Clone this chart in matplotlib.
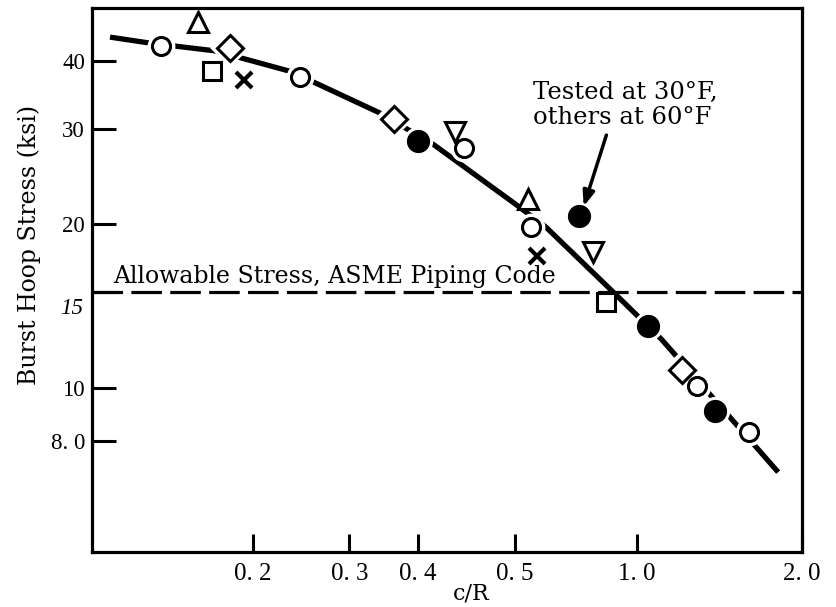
import matplotlib
matplotlib.use("Agg")
import matplotlib.pyplot as plt

plt.rcParams['lines.scale_dashes'] = False

# ---------------- data ----------------
open_circle_x = [0.136, 0.244, 0.485, 0.641, 1.29, 1.60]
open_circle_y = [42.6, 37.4, 27.6, 19.8, 10.1, 8.30]

filled_circle_x = [0.40, 0.784, 1.047, 1.39]
filled_circle_y = [28.5, 20.7, 13.0, 9.07]

tri_up_x = [0.159, 0.634]
tri_up_y = [47.1, 22.3]

tri_down_x = [0.467, 0.832]
tri_down_y = [29.6, 17.8]

diamond_x = [0.182, 0.362, 1.21]
diamond_y = [42.2, 31.2, 10.8]

square_x = [0.169, 0.878]
square_y = [38.3, 14.4]

cross_x = [0.193, 0.658]
cross_y = [36.9, 17.5]

curve_x = [0.110, 0.130, 0.171, 0.235, 0.340, 0.428, 0.598, 0.683, 0.908, 1.11, 1.81]
curve_y = [44.2, 43.1, 41.7, 38.2, 32.1, 28.0, 21.9, 19.8, 15.0, 12.3, 7.01]

allowable_stress = 15.0

x_ticks = [0.2, 0.3, 0.4, 0.6, 1.0, 2.0]
x_ticklabels = ["0. 2", "0. 3", "0. 4", "0. 5", "1. 0", "2. 0"]
y_ticks = [8.0, 10, 15, 20, 30, 40]
y_ticklabels = ["8. 0", "10", "", "20", "30", "40"]

arrow_tip = (0.801, 21.6)
arrow_tail = (0.881, 29.2)

# ---------------- figure ----------------
W, H = 837, 607
fig = plt.figure(figsize=(W / 100, H / 100), dpi=100)
L, R, T, B = 92, 802, 8, 552
ax = fig.add_axes([L / W, 1 - B / H, (R - L) / W, (B - T) / H])
ax.set_xscale('log')
ax.set_yscale('log')
ax.set_xlim(0.102, 2.0)
ax.set_ylim(5.0, 50.0)

serif = 'DejaVu Serif'
tickfont = 'Liberation Serif'

# allowable stress dashed line
ax.axhline(allowable_stress, color='black', lw=2.3, dashes=(22, 6), zorder=1)

# fitted curve
ax.plot(curve_x, curve_y, color='black', lw=3.8, solid_capstyle='butt', zorder=2)

mew = 2.2
# white masks to break the curve around markers
for xs, ys, m, ms in [(open_circle_x, open_circle_y, 'o', 13),
                      (filled_circle_x, filled_circle_y, 'o', 14),
                      (diamond_x, diamond_y, 'D', 13)]:
    ax.plot(xs, ys, ls='none', marker=m, ms=ms, mfc='white', mec='white', mew=7, zorder=3)

ax.plot(open_circle_x, open_circle_y, ls='none', marker='o', ms=13, mfc='white', mec='black', mew=mew, zorder=4)
ax.plot(filled_circle_x, filled_circle_y, ls='none', marker='o', ms=14.5, mfc='black', mec='black', mew=mew, zorder=4)
ax.plot(tri_up_x, tri_up_y, ls='none', marker='^', ms=14, mfc='white', mec='black', mew=mew, zorder=4)
ax.plot(tri_down_x, tri_down_y, ls='none', marker='v', ms=14, mfc='white', mec='black', mew=mew, zorder=4)
ax.plot(diamond_x, diamond_y, ls='none', marker='D', ms=13, mfc='white', mec='black', mew=mew, zorder=4)
ax.plot(square_x, square_y, ls='none', marker='s', ms=13, mfc='white', mec='black', mew=mew, zorder=4)
ax.plot(cross_x, cross_y, ls='none', marker='x', ms=11, mec='black', mew=3, zorder=4)

# annotations
ax.text(0.0296, 0.507, "Allowable Stress, ASME Piping Code", transform=ax.transAxes,
        ha='left', va='center', fontsize=17, family=serif)
ax.text(0.621, 0.844, "Tested at 30°F,", transform=ax.transAxes,
        ha='left', va='center', fontsize=17.5, family=serif)
ax.text(0.621, 0.799, "others at 60°F", transform=ax.transAxes,
        ha='left', va='center', fontsize=17.5, family=serif)
ax.annotate("", xy=arrow_tip, xytext=arrow_tail,
            arrowprops=dict(arrowstyle='-|>,head_length=0.9,head_width=0.35', color='black', lw=2.5,
                            shrinkA=0, shrinkB=0))

# axes styling
for s in ax.spines.values():
    s.set_linewidth(2.3)
ax.set_xticks(x_ticks)
ax.set_xticklabels(x_ticklabels, family=tickfont, fontsize=18)
ax.set_yticks(y_ticks)
ax.set_yticklabels(y_ticklabels, family=tickfont, fontsize=16.5)
ax.minorticks_off()
ax.tick_params(axis='x', direction='in', length=13, width=2.2, pad=8)
ax.tick_params(axis='y', direction='in', length=17, width=2.2, pad=5)

fig.text(83 / W, 1 - 308 / H, "15", ha='right', va='center', fontsize=16.5,
         family=tickfont, style='italic')
fig.text(471 / W, 1 - 594 / H, "c/R", ha='center', va='center', fontsize=16, family=serif)
fig.text(29 / W, 1 - 245 / H, "Burst Hoop Stress (ksi)", ha='center', va='center',
         rotation=90, fontsize=17, family=serif)

fig.savefig("out.png", dpi=100)
